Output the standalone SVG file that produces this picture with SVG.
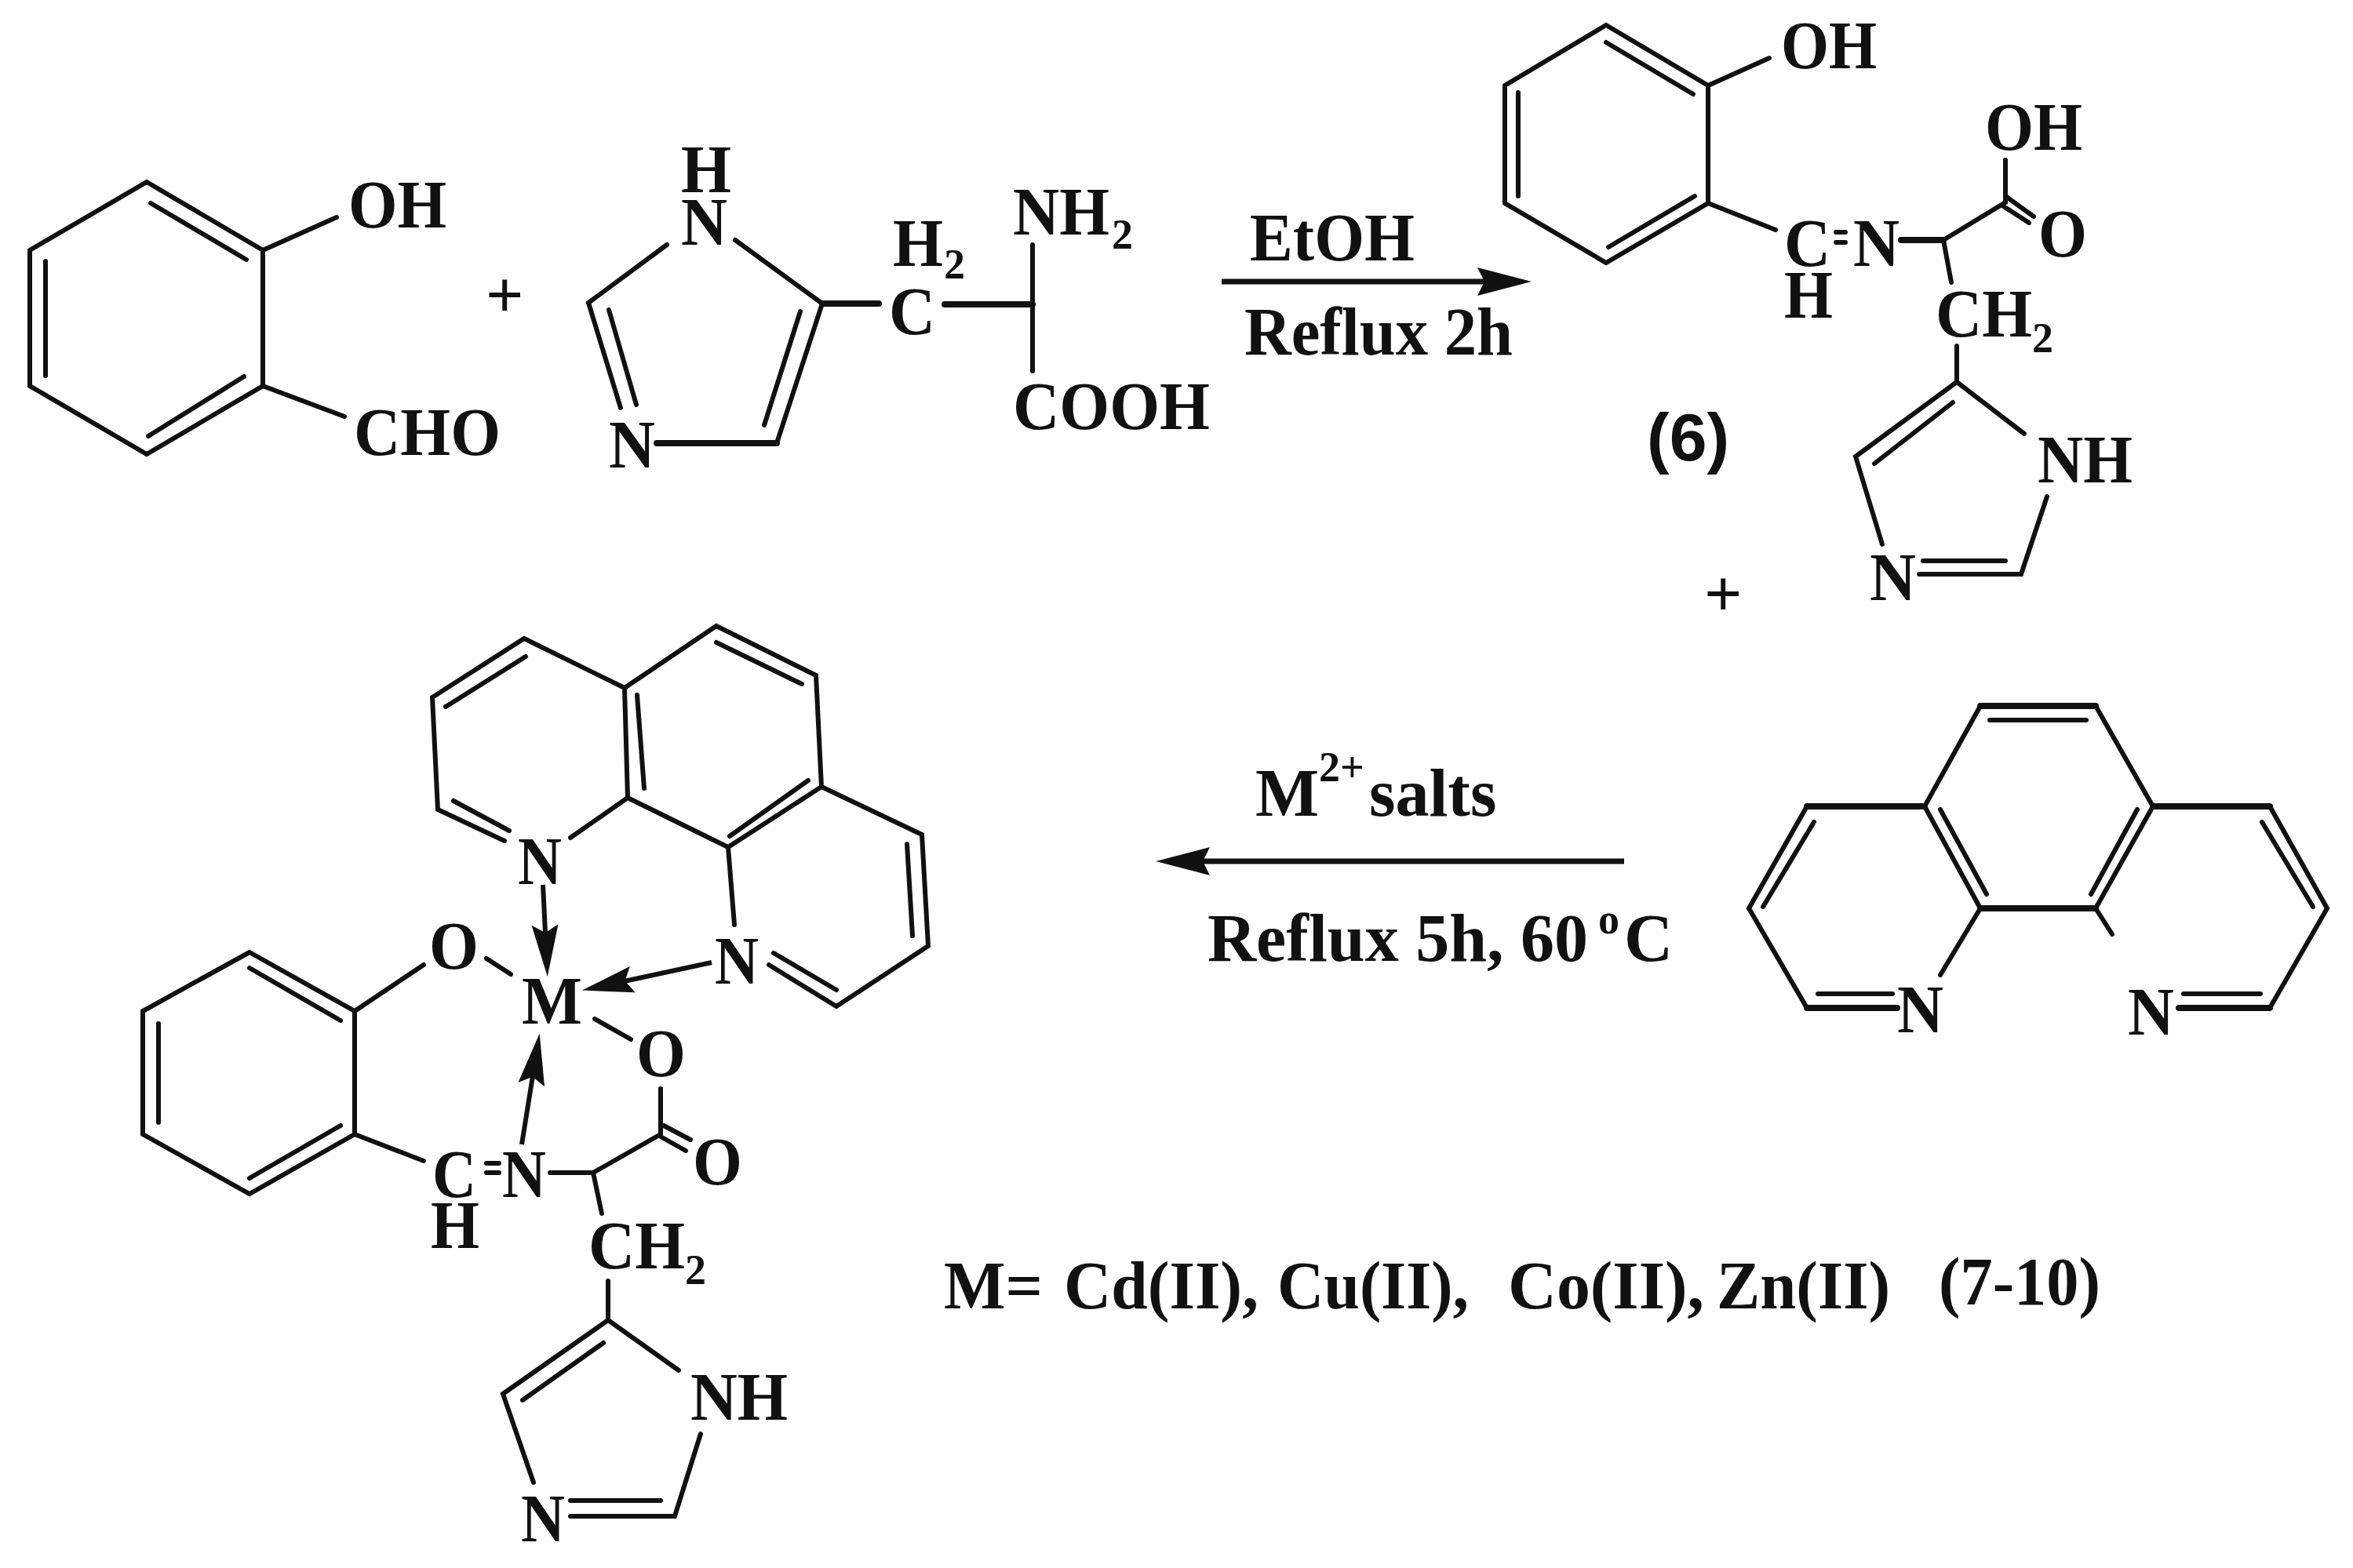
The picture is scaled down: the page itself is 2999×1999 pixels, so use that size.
<svg xmlns="http://www.w3.org/2000/svg" width="2999" height="1999" viewBox="0 0 2999 1999">
<style>
text{font-family:"Liberation Serif","Times New Roman",serif;font-weight:bold;font-size:86px;fill:#111}
.s{font-size:54px}
.p{font-size:85px}
.c{font-family:"Liberation Sans",Arial,sans-serif;font-size:86px}
.b path{fill:none;stroke:#111;stroke-width:6;stroke-linecap:round;stroke-linejoin:miter}
.b path.t{stroke-width:8}
.a{fill:none;stroke:#111;stroke-width:7}
.d{fill:none;stroke:#111;stroke-width:6}
</style>
<defs>
<marker id="arrow" markerUnits="userSpaceOnUse" markerWidth="72" markerHeight="40" refX="19" refY="18" orient="auto"><path d="M0 0L69 18L0 36L9 18Z" fill="#111"/></marker>
<marker id="dative" markerUnits="userSpaceOnUse" markerWidth="70" markerHeight="38" refX="30" refY="17" orient="auto"><path d="M0 0L66 17L0 34L10 17Z" fill="#111"/></marker>
</defs>
<rect width="2999" height="1999" fill="#fff"/>

<g id="salicylaldehyde" class="b">
<path d="M187 232L335 319V492L187 579L38 492V319ZM192 259L314 331M58 333V479M189 556L311 480M335 319L429 277M335 492L439 531"/>
<text x="444" y="290" textLength="125" lengthAdjust="spacingAndGlyphs">OH</text>
<text x="451" y="580" textLength="187" lengthAdjust="spacingAndGlyphs">CHO</text>
</g>
<g id="plus-1"><text class="p" x="619" y="404">+</text></g>

<g id="histidine" class="b">
<path d="M850 312L750 386L791 520M776 395L811 516M937 306L1048 387L990 565M1020 397L974 542"/>
<path class="t" d="M990 565H837M1048 387H1120M1204 388H1316"/>
<path d="M1316 312V473"/>
<text x="868" y="245" textLength="64" lengthAdjust="spacingAndGlyphs">H</text>
<text x="868" y="312" textLength="59" lengthAdjust="spacingAndGlyphs">N</text>
<text x="776" y="596" textLength="59" lengthAdjust="spacingAndGlyphs">N</text>
<text x="1133" y="426" textLength="59" lengthAdjust="spacingAndGlyphs">C</text>
<text x="1138" y="339" textLength="64" lengthAdjust="spacingAndGlyphs">H</text><text class="s" x="1203" y="355">2</text>
<text x="1291" y="299" textLength="123" lengthAdjust="spacingAndGlyphs">NH</text><text class="s" x="1417" y="317">2</text>
<text x="1291" y="547" textLength="251" lengthAdjust="spacingAndGlyphs">COOH</text>
</g>

<g id="ligand-6" class="b">
<path d="M2047 32L2177 109V259L2047 335L1918 259V109ZM2047 54L2158 120M1935 118V250M2050 315L2160 250M2177 109L2255 74M2177 259L2263 293"/>
<path d="M2340 296H2352M2340 309H2352"/>
<path class="t" d="M2423 306H2477"/>
<path d="M2477 306L2556 258V204M2556 250L2592 276M2552 262L2586 284M2477 306L2487 360M2494 441V487L2580 553M2609 633L2576 732H2446M2556 715H2451M2399 694L2365 582L2494 487M2389 591L2489 513"/>
<text x="2270" y="87" textLength="122" lengthAdjust="spacingAndGlyphs">OH</text>
<text x="2274" y="339" textLength="59" lengthAdjust="spacingAndGlyphs">C</text>
<text x="2362" y="339" textLength="59" lengthAdjust="spacingAndGlyphs">N</text>
<text x="2274" y="405" textLength="62" lengthAdjust="spacingAndGlyphs">H</text>
<text x="2530" y="191" textLength="124" lengthAdjust="spacingAndGlyphs">OH</text>
<text x="2598" y="327" textLength="62" lengthAdjust="spacingAndGlyphs">O</text>
<text x="2467" y="429" textLength="123" lengthAdjust="spacingAndGlyphs">CH</text><text class="s" x="2590" y="449">2</text>
<text x="2597" y="615" textLength="121" lengthAdjust="spacingAndGlyphs">NH</text>
<text x="2383" y="765" textLength="59" lengthAdjust="spacingAndGlyphs">N</text>
<text class="c" x="2099" y="587">(6)</text>
</g>
<g id="plus-2"><text class="p" x="2172" y="785">+</text></g>

<g id="phenanthroline" class="b">
<path d="M2303 1285L2229 1158L2303 1028M2524 1158L2453 1028L2524 900M2671 900L2744 1028L2671 1158M2893 1028L2966 1158L2893 1285M2524 1158L2473 1243M2671 1158L2692 1191"/>
<path class="t" d="M2524 900H2671M2453 1028H2303M2744 1028H2893M2524 1158H2671M2303 1285H2418M2893 1285H2777"/>
<path d="M2536 918H2659M2473 1032L2532 1140M2724 1032L2665 1140M2312 1048L2247 1156M2883 1048L2948 1156M2317 1267H2412M2881 1267H2783"/>
<text x="2418" y="1316" textLength="59" lengthAdjust="spacingAndGlyphs">N</text>
<text x="2712" y="1319" textLength="59" lengthAdjust="spacingAndGlyphs">N</text>
</g>

<g id="complex" class="b">
<path d="M796 877L668 814L551 889L558 1032L643 1072M578 1021L649 1059M568 901L670 837M796 877L913 798L1040 861L1047 1003L1175 1064L1183 1206L1066 1283L980 1230M913 819L1022 872M1156 1076L1163 1193M1066 1262L986 1215M796 877L800 1017L928 1080L1047 1003M812 886L821 1005M930 1066L1030 995M800 1017L727 1068M928 1080L936 1179"/>
<path d="M318 1214L452 1289V1446L318 1522L182 1446V1289ZM318 1234L434 1301M202 1305V1431M318 1502L434 1435M452 1289L540 1230M620 1222L651 1242M452 1446L540 1480M758 1299L804 1325"/>
<path d="M620 1483H636M620 1495H636M701 1495H756L842 1446V1388M846 1435L880 1453M842 1449L874 1467M756 1495L767 1547M775 1633V1683L865 1747M893 1828L860 1933H727M842 1913H727M680 1890L641 1777L775 1683M666 1785L769 1712"/>
<text x="660" y="1127" textLength="56" lengthAdjust="spacingAndGlyphs">N</text>
<text x="911" y="1254" textLength="56" lengthAdjust="spacingAndGlyphs">N</text>
<text x="665" y="1305" textLength="77" lengthAdjust="spacingAndGlyphs">M</text>
<text x="547" y="1235" textLength="63" lengthAdjust="spacingAndGlyphs">O</text>
<text x="811" y="1372" textLength="63" lengthAdjust="spacingAndGlyphs">O</text>
<text x="883" y="1510" textLength="63" lengthAdjust="spacingAndGlyphs">O</text>
<text x="551" y="1526" textLength="56" lengthAdjust="spacingAndGlyphs">C</text>
<text x="640" y="1526" textLength="56" lengthAdjust="spacingAndGlyphs">N</text>
<text x="549" y="1591" textLength="62" lengthAdjust="spacingAndGlyphs">H</text>
<text x="750" y="1617" textLength="123" lengthAdjust="spacingAndGlyphs">CH</text><text class="s" x="873" y="1637">2</text>
<text x="880" y="1810" textLength="124" lengthAdjust="spacingAndGlyphs">NH</text>
<text x="664" y="1965" textLength="56" lengthAdjust="spacingAndGlyphs">N</text>
</g>

<g id="connectors">
<path class="a" d="M1557 359H1902" marker-end="url(#arrow)"/>
<path class="a" d="M2070 1098H1523" marker-end="url(#arrow)"/>
<path class="d" d="M692 1128L696 1209" marker-end="url(#dative)"/>
<path class="d" d="M907 1227L777 1255" marker-end="url(#dative)"/>
<path class="d" d="M665 1459L682 1353" marker-end="url(#dative)"/>
</g>

<g id="labels">
<text x="1593" y="332" textLength="210" lengthAdjust="spacingAndGlyphs">EtOH</text>
<text x="1586" y="452" textLength="342" lengthAdjust="spacingAndGlyphs">Reflux 2h</text>
<text y="1040"><tspan x="1600">M</tspan><tspan class="s" x="1681" y="996">2+</tspan><tspan x="1745" y="1040">salts</tspan></text>
<text y="1225"><tspan x="1539">Reflux 5h, 60</tspan><tspan class="s" x="2037" y="1190">o</tspan><tspan x="2070" y="1225">C</tspan></text>
<text x="1203" y="1668" textLength="126" lengthAdjust="spacingAndGlyphs">M=</text>
<text x="1356" y="1668" textLength="248" lengthAdjust="spacingAndGlyphs">Cd(II),</text>
<text x="1628" y="1668" textLength="244" lengthAdjust="spacingAndGlyphs">Cu(II),</text>
<text x="1922" y="1668" textLength="250" lengthAdjust="spacingAndGlyphs">Co(II),</text>
<text x="2188" y="1668" textLength="221" lengthAdjust="spacingAndGlyphs">Zn(II)</text>
<text x="2471" y="1663" textLength="206" lengthAdjust="spacingAndGlyphs">(7-10)</text>
</g>
</svg>
